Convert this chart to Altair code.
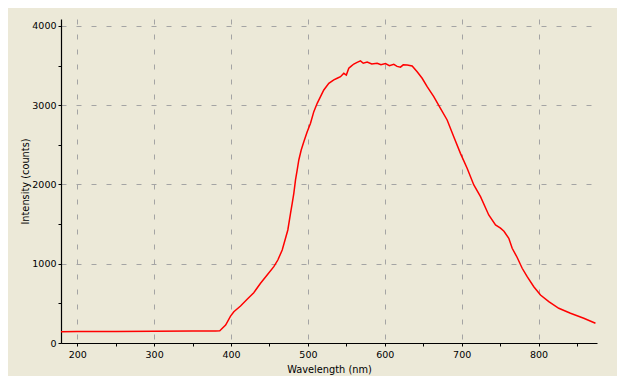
import altair as alt
import pandas as pd

wavelength = [178.9, 200, 250, 300, 350, 380, 385.4, 386.4, 393, 399.4, 403.7, 412.4, 421, 429.6, 438.4, 447,
              455.7, 460.9, 466.6, 470.9, 473.9, 477.4, 479.6, 481.7, 483.9, 486.1, 488.2, 491.3,
              494.7, 499.1, 503.4, 507.7, 512.1, 516.4, 520.7, 527.2, 533.7, 538.1, 542.4, 546.7,
              550, 553.2, 556, 559.7, 564, 568.4, 572, 577.1, 583, 590.1, 595, 600.9, 606, 611.7,
              616, 620.4, 624, 629.1, 635.6, 642.1, 648.6, 655.1, 663.7, 672.4, 681.1, 689.7,
              698.4, 707.1, 715.8, 724.5, 735.2, 744, 750.5, 755, 761.3, 765.7, 772.2, 778.7,
              785.2, 793.8, 802.5, 813.3, 826.3, 841.5, 858.8, 874]
counts = [143, 145, 146, 148, 150, 152, 155, 164, 227, 340, 395, 467, 551, 635, 753, 858,
          963, 1047, 1173, 1321, 1426, 1637, 1763, 1889, 2057, 2183, 2309, 2435,
          2540, 2666, 2772, 2919, 3024, 3108, 3192, 3277, 3319, 3340, 3360, 3403,
          3380, 3466, 3490, 3520, 3540, 3560, 3530, 3545, 3520, 3530, 3510, 3525, 3500, 3516,
          3490, 3480, 3510, 3508, 3495, 3423, 3340, 3234, 3108, 2960, 2814, 2603,
          2393, 2204, 1994, 1846, 1615, 1489, 1450, 1410, 1321, 1195, 1079, 943,
          837, 710, 606, 521, 438, 375, 312, 249]

x_ticks = list(range(200, 851, 50))
y_ticks = list(range(0, 4001, 500))

df = pd.DataFrame({"wl": wavelength, "c": counts})

FONT = "DejaVu Sans"

chart = alt.Chart(df).mark_line(color="#FF0000", strokeWidth=1.5, clip=True).encode(
    x=alt.X("wl:Q",
            scale=alt.Scale(domain=[178.9, 876], nice=False, zero=False),
            axis=alt.Axis(
                title="Wavelength (nm)", values=x_ticks,
                labelExpr="datum.value % 100 === 0 ? datum.label : ''",
                format="d",
                grid=True, gridDash=[5, 10], gridColor="#A4A4A4", gridWidth=1,
                gridOpacity={"condition": {"test": "datum.value % 100 !== 0", "value": 0}, "value": 1},
                domainColor="#000000", domainWidth=1.2, tickColor="#000000", tickSize=3,
                labelFont=FONT, labelFontSize=9.5, labelColor="#000000", labelPadding=3,
                titleFont=FONT, titleFontSize=9.8, titleFontWeight="normal", titleColor="#000000",
                titlePadding=6, labelFlush=False)),
    y=alt.Y("c:Q",
            scale=alt.Scale(domain=[0, 4088], nice=False, zero=False),
            axis=alt.Axis(
                title="Intensity (counts)", values=y_ticks,
                labelExpr="datum.value % 1000 === 0 ? datum.label : ''",
                format="d",
                grid=True, gridDash=[5, 10], gridColor="#A4A4A4", gridWidth=1,
                gridOpacity={"condition": {"test": "datum.value % 1000 !== 0", "value": 0}, "value": 1},
                domainColor="#000000", domainWidth=1.2, tickColor="#000000", tickSize=3,
                labelFont=FONT, labelFontSize=9.5, labelColor="#000000", labelPadding=2,
                titleFont=FONT, titleFontSize=9.8, titleFontWeight="normal", titleColor="#000000",
                titlePadding=1, labelFlush=False)),
).properties(
    width=536, height=324,
    background="#ECE9D8",
    padding={"left": 53, "top": 11, "right": 20, "bottom": 33},
    autosize=alt.AutoSizeParams(type="none"),
).configure_view(stroke=None)

chart.save("out.html", embed_options={"renderer": "svg", "actions": False})
